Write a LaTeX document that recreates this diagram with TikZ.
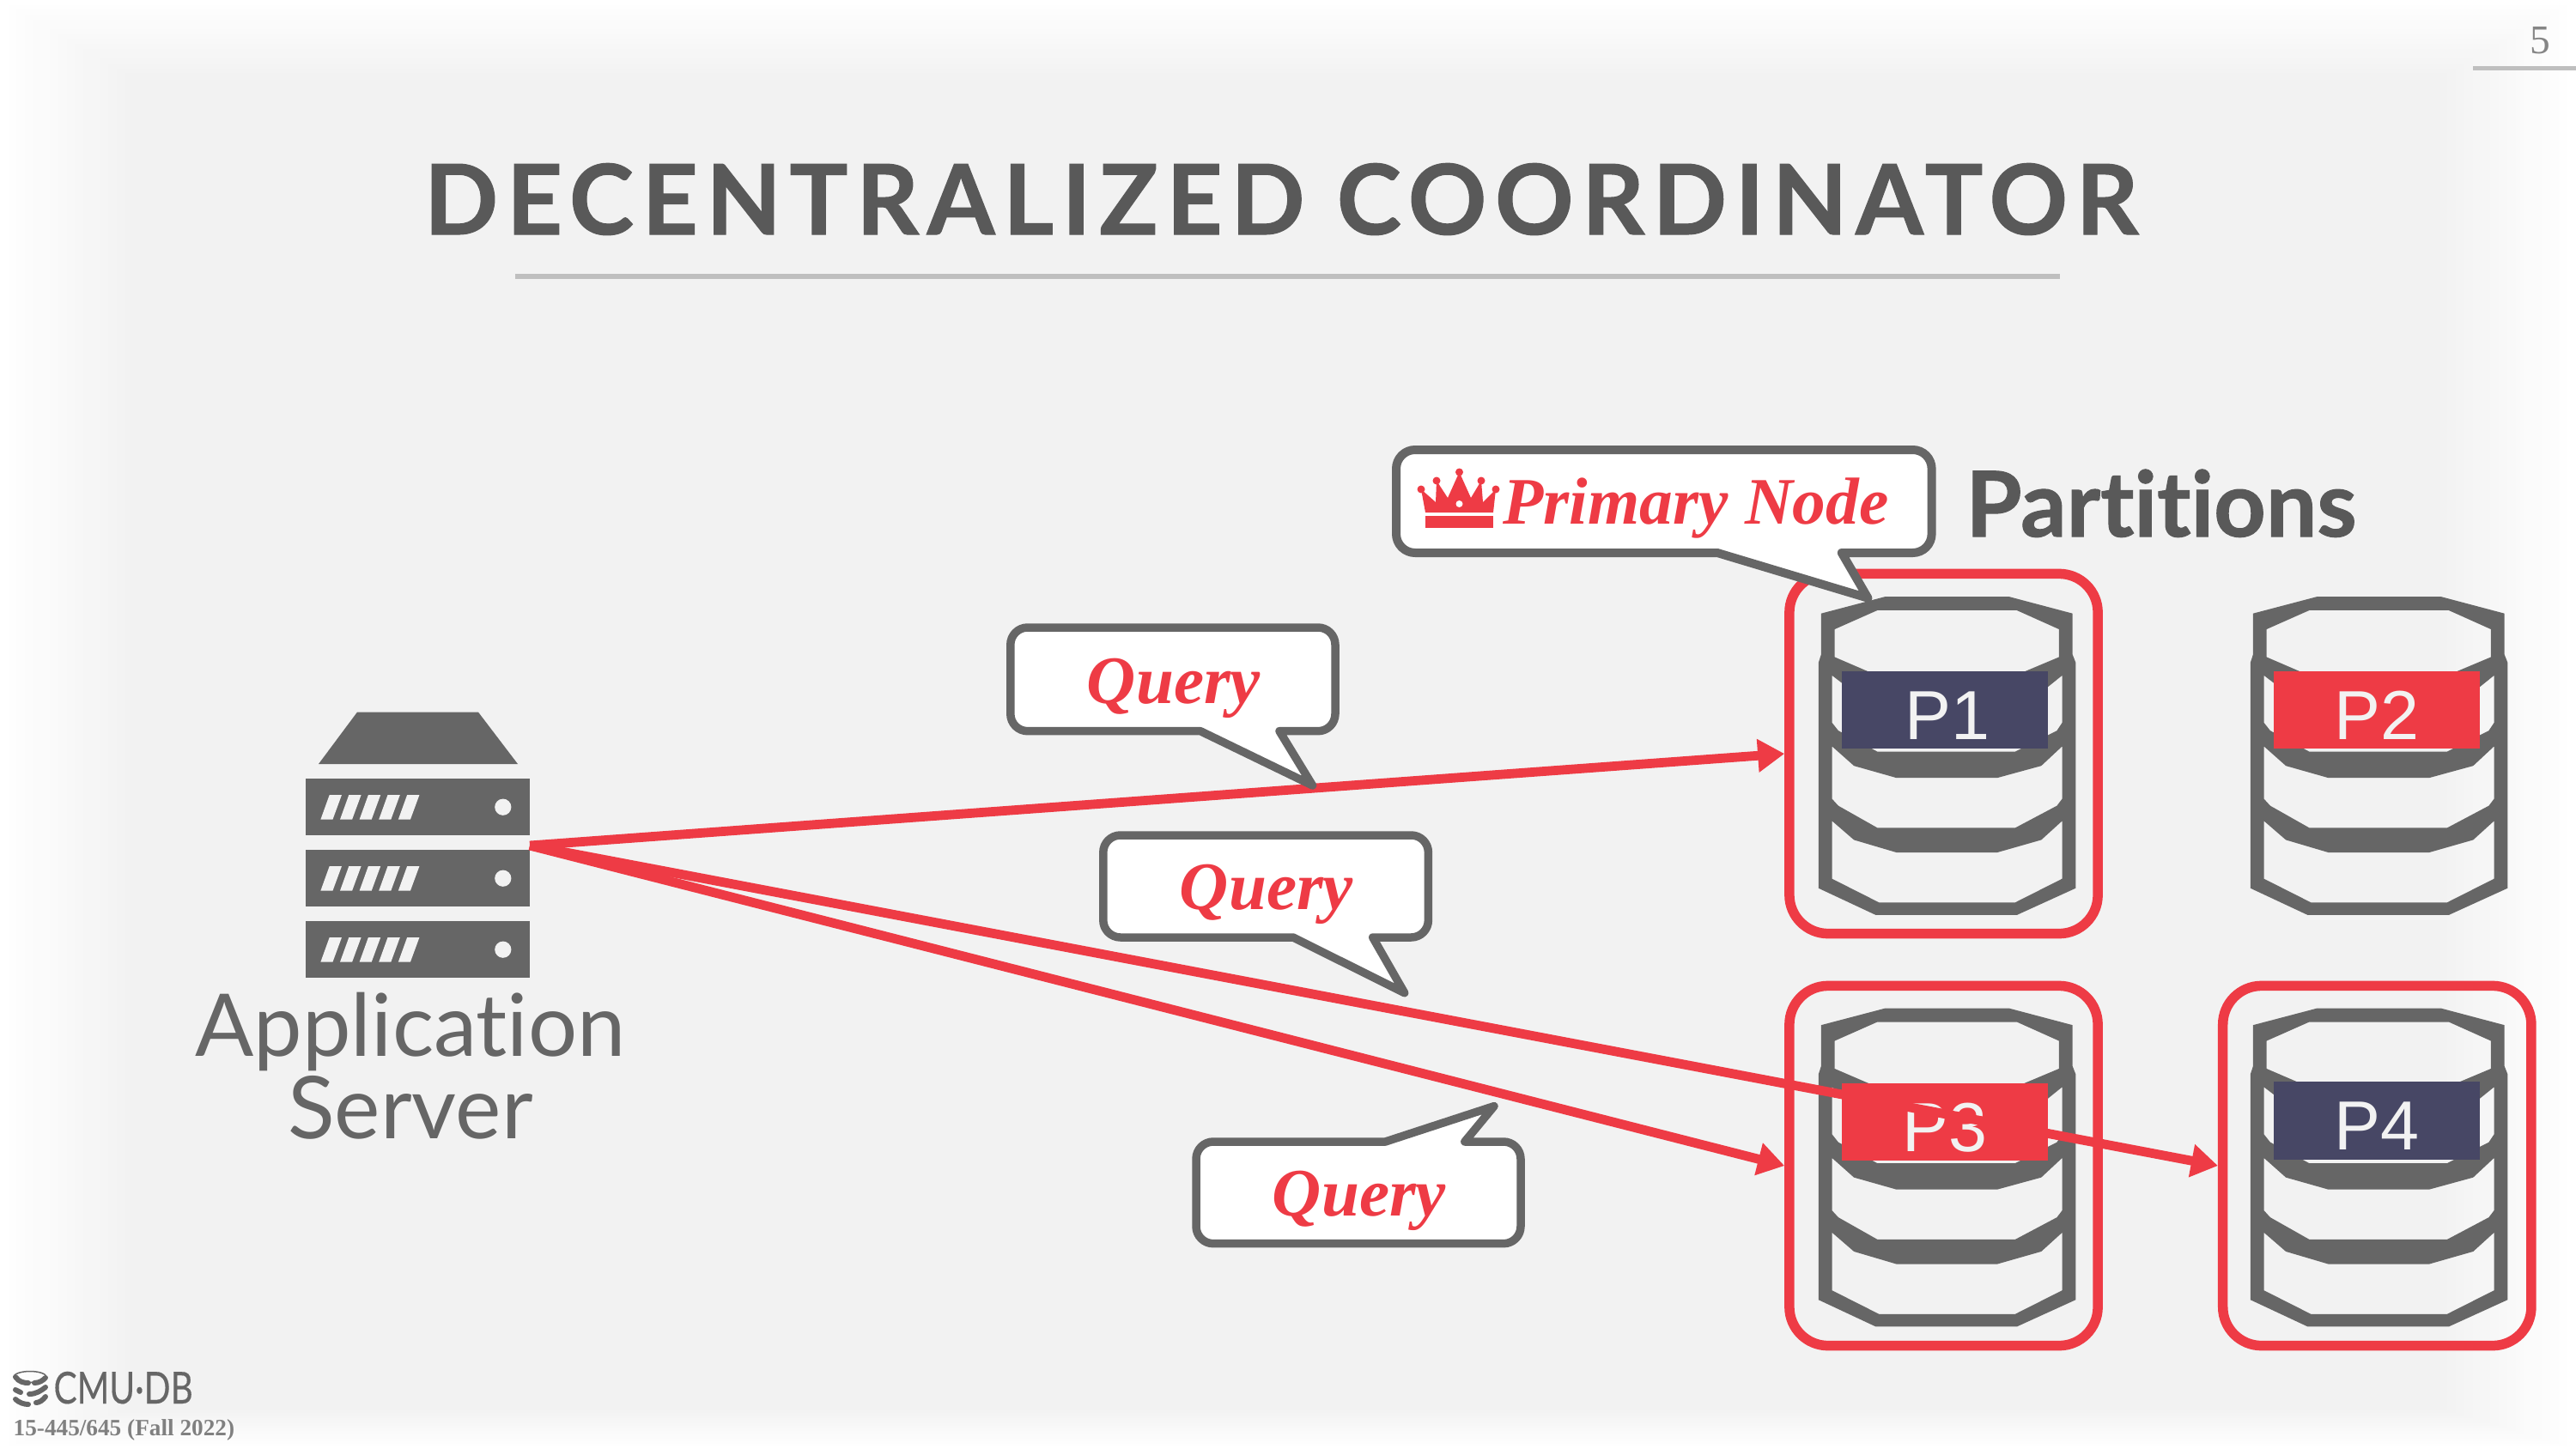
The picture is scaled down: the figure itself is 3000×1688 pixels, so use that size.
\documentclass[tikz,border=0pt]{standalone}
\usepackage{fontspec}
\usetikzlibrary{arrows.meta}
\newfontfamily\latofont[Ligatures=NoCommon]{Lato}
\newfontfamily\arialfont{Liberation Sans}
\newfontfamily\timesfont{Liberation Serif}
\definecolor{slidebg}{HTML}{F2F2F2}
\definecolor{darkgray}{HTML}{666666}
\definecolor{titlegray}{HTML}{595959}
\definecolor{rulegray}{HTML}{BFBFBF}
\definecolor{cmured}{HTML}{EE3B45}
\definecolor{navy}{HTML}{474765}

\tikzstyle{partbox} = [draw=cmured, line width=.115cm, rounded corners=.45cm, inner sep=0, minimum width=3.59cm, minimum height=4.19cm]
\tikzstyle{partlabel} = [text=slidebg, inner sep=0, minimum width=2.4cm, minimum height=.9cm, text height=19.5pt, text depth=0pt, font=\arialfont\fontsize{23}{25}\selectfont]
\tikzstyle{arrow} = [draw=cmured, line width=.108cm, -{Triangle[length=.31cm,width=.37cm]}]
\tikzstyle{bubble} = [draw=darkgray, fill=white, line width=.095cm, line join=round]
\tikzstyle{bubbletext} = [text=cmured, anchor=base, inner sep=0, font=\timesfont\bfseries\itshape\fontsize{22.5}{24}\selectfont]
\tikzstyle{basetext} = [anchor=base, inner sep=0]

\tikzset{
  dbstack/.pic={
    \fill[darkgray, even odd rule]
      (117,122) -- (240,90) -- (478,90) -- (600,122) -- (600,200) -- (606,215) -- (606,645)
        -- (493,696) -- (222,696) -- (112,645) -- (112,215) -- (117,200) -- cycle
      (143,152) -- (225,116) -- (493,116) -- (574,152) -- (574,205) -- (490,240) -- (225,240) -- (143,205) -- cycle
      (138,240) -- (180,272) -- (262,295) -- (455,295) -- (540,272) -- (580,240) -- (580,330) -- (570,345)
        -- (490,385) -- (225,385) -- (150,345) -- (138,330) -- cycle
      (138,375) -- (180,412) -- (262,435) -- (455,435) -- (540,412) -- (580,375) -- (580,475) -- (570,488)
        -- (490,530) -- (225,530) -- (150,488) -- (138,475) -- cycle
      (138,517) -- (180,553) -- (262,577) -- (455,577) -- (540,553) -- (580,517) -- (580,627)
        -- (490,672) -- (228,672) -- (138,627) -- cycle;
  },
  rackrow/.pic={
    \fill[darkgray] (356,0) rectangle (617,66);
    \foreach \i in {0,...,4}
      \fill[slidebg, xshift=.226cm*\i] (373.4,47.6) -- (383.7,19) -- (398,19) -- (387.5,47.6) -- cycle;
    \fill[slidebg] (585.8,33.2) circle (.096cm);
  }
}

\begin{document}
\begin{tikzpicture}[x=.01cm, y=-.01cm]
\useasboundingbox (0,0) rectangle (3000,1688);

% background
\fill[white] (0,0) rectangle (3000,1688);
\foreach \i in {1,...,15}
  \pgfmathsetmacro{\mix}{\i*100/15}
  \fill[slidebg!\mix!white] ({\i*9.7},{\i*5.7}) rectangle ({3000-\i*10},{1688-\i*3});

% title
\node[basetext, text=titlegray, font=\latofont\bfseries\fontsize{32.2}{36}\selectfont\addfontfeature{LetterSpace=8.6,FakeBold=1}](title) at (1492,273) {DECENTRALIZED COORDINATOR};
\fill[rulegray] (600,319) rectangle (2399,325);
\node[basetext, text=darkgray!80, font=\timesfont\fontsize{13.5}{14}\selectfont](pagenum) at (2958,63) {5};
\fill[rulegray] (2880,77) rectangle (3000,82);

% application server
\fill[darkgray] (416,829.6) -- (557,829.6) -- (603,890) -- (371,890) -- cycle;
\pic at (0,907) {rackrow};
\pic at (0,990) {rackrow};
\pic at (0,1073) {rackrow};
\node[basetext, text=darkgray, font=\latofont\fontsize{28.7}{32}\selectfont](apptext) at (478,1230) {Application};
\node[basetext, text=darkgray, font=\latofont\fontsize{28.7}{32}\selectfont](srvtext) at (478,1326) {Server};
\coordinate (srvport) at (617,985);

% partitions
\node[basetext, text=titlegray, font=\latofont\bfseries\fontsize{30}{31}\selectfont\addfontfeature{FakeBold=1}](partitions) at (2517,625) {Partitions};

\pic[xscale=.606, yscale=.612] at (2050,640) {dbstack};
\pic[xscale=.606, yscale=.612] at (2553,640) {dbstack};
\pic[xscale=.606, yscale=.612] at (2050,1119.5) {dbstack};
\pic[xscale=.606, yscale=.612] at (2553,1119.5) {dbstack};

\node[partbox](p1box) at (2263.5,878) {};
\node[partbox](p3box) at (2263.5,1358) {};
\node[partbox](p4box) at (2768.3,1358) {};

\node[partlabel, fill=navy](p1) at (2264.6,826.8) {\hspace{.06cm}P1};
\node[partlabel, fill=cmured](p2) at (2767.8,826.8) {P2};
\node[partlabel, fill=cmured](p3) at (2264.6,1307) {P3};
\node[partlabel, fill=navy](p4) at (2767.8,1305.5) {P4};

\path[arrow] (srvport) -- (p1box.west);
\path[arrow] (srvport) -- (p3box.west);
\path[arrow] (srvport) -- (p4box.west);

% bubbles
\draw[bubble] (1366,731) [rounded corners=.2cm] -- (1555,731) -- (1555,851.7) [sharp corners] -- (1490,851.7) -- (1528.6,915) -- (1398,851.7) [rounded corners=.2cm] -- (1176.8,851.7) -- (1176.8,731) -- cycle;
\node[bubbletext](q1) at (1367,819) {Query};

\draw[bubble] (1474,973) [rounded corners=.2cm] -- (1663.4,973) -- (1663.4,1092) [sharp corners] -- (1598.7,1092) -- (1635.7,1156.7) -- (1506,1092) [rounded corners=.2cm] -- (1284.8,1092) -- (1284.8,973) -- cycle;
\node[bubbletext](q2) at (1475,1059) {Query};

\draw[bubble] (1582,1448.7) [rounded corners=.2cm] -- (1771,1448.7) -- (1771,1330) [sharp corners] -- (1705.8,1330) -- (1740,1288.6) -- (1613.4,1330) [rounded corners=.2cm] -- (1393,1330) -- (1393,1448.7) -- cycle;
\node[bubbletext](q3) at (1583,1416) {Query};

\draw[bubble, line width=.1cm] (1938,524) [rounded corners=.22cm] -- (2249.6,524) -- (2249.6,644) [sharp corners] -- (2144.8,644) -- (2175.4,696.7) -- (2000,644) [rounded corners=.22cm] -- (1626,644) -- (1626,524) -- cycle;
\node[bubbletext, font=\timesfont\bfseries\itshape\fontsize{22}{24}\selectfont](primary) at (1975,610) {Primary Node};

% crown
\fill[cmured] (1660,601) rectangle (1739,615);
\fill[cmured] (1660,597) -- (1655,570) -- (1672,585) -- (1673,560) -- (1686,580) -- (1699.5,550) -- (1713,580) -- (1725,560) -- (1727,585) -- (1742,570) -- (1739,597) -- cycle;
\foreach \cx/\cy in {1655/570, 1673/560, 1699.5/550, 1725/560, 1742/570}
  \fill[cmured] (\cx,\cy) circle (.045cm);
\fill[white] (1699.5,587) circle (.04cm);

% footer
\draw[darkgray, line width=.015cm] (35,1604) ellipse (19 and 6.5);
\draw[darkgray, line width=.06cm, line cap=round] (18,1604) .. controls (22,1610) and (28,1611) .. (33,1611);
\draw[darkgray, line width=.06cm, line cap=round] (40,1611) .. controls (46,1611) and (50,1608) .. (53,1605);
\draw[darkgray, line width=.06cm, line cap=round] (18,1619) -- (24,1622);
\draw[darkgray, line width=.06cm, line cap=round] (34,1624) .. controls (42,1624) and (48,1620) .. (53,1616);
\draw[darkgray, line width=.06cm, line cap=round] (18,1630) .. controls (22,1634) and (28,1636) .. (33,1636);
\draw[darkgray, line width=.06cm, line cap=round] (42,1634) .. controls (46,1634) and (50,1631) .. (53,1627);
\node[basetext, anchor=base west, text=darkgray, xscale=.79, transform shape, font=\latofont\fontsize{14.6}{16}\selectfont\addfontfeature{FakeBold=.3}](logotext) at (62,1635) {CMU·DB};
\node[basetext, anchor=base west, text=black!50, font=\timesfont\bfseries\fontsize{7.75}{9}\selectfont](course) at (15,1672) {15-445/645 (Fall 2022)};
\end{tikzpicture}
\end{document}
